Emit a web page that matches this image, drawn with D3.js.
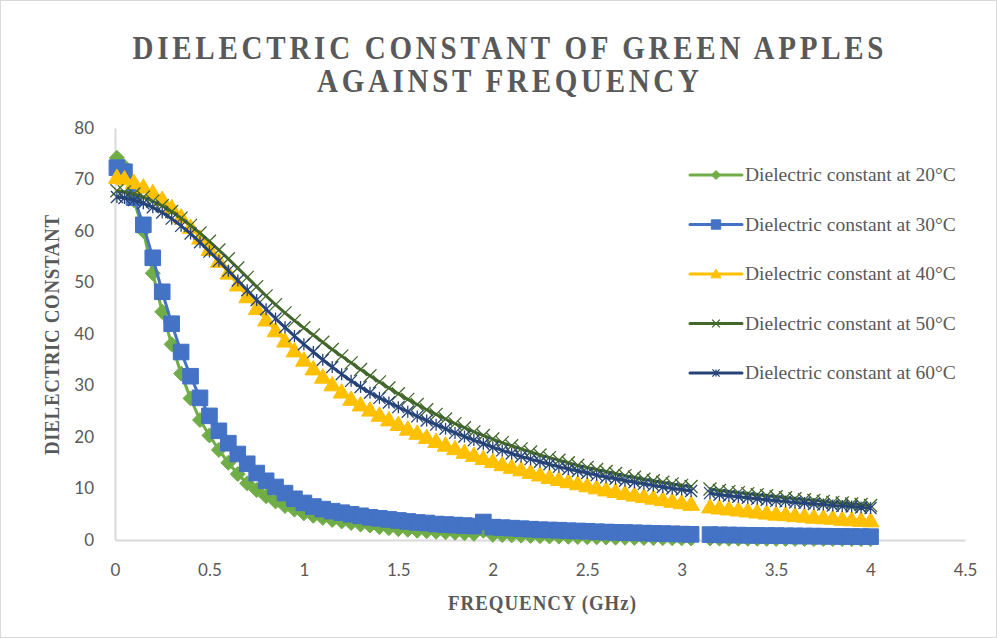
<!DOCTYPE html>
<html>
<head>
<meta charset="utf-8">
<script src="https://cdn.jsdelivr.net/npm/d3@7"></script>
<style>
  html, body { margin: 0; padding: 0; background: #fff; }
  svg { display: block; }
</style>
</head>
<body>
<div id="chart"></div>
<script>
// values (3.1 GHz is missing in the source)
const freq = [0.01,0.05,0.1,0.15,0.2,0.25,0.3,0.35,0.4,0.45,0.5,0.55,0.6,0.65,0.7,0.75,0.8,0.85,0.9,0.95,
  1,1.05,1.1,1.15,1.2,1.25,1.3,1.35,1.4,1.45,1.5,1.55,1.6,1.65,1.7,1.75,1.8,1.85,1.9,1.95,
  2,2.05,2.1,2.15,2.2,2.25,2.3,2.35,2.4,2.45,2.5,2.55,2.6,2.65,2.7,2.75,2.8,2.85,2.9,2.95,
  3,3.05,3.1,3.15,3.2,3.25,3.3,3.35,3.4,3.45,3.5,3.55,3.6,3.65,3.7,3.75,3.8,3.85,3.9,3.95,4];

const t20 = [74.2,72.5,66.0,60.0,51.8,44.3,38.0,32.3,27.5,23.3,20.3,17.5,15.0,12.8,11.0,9.7,8.5,7.5,6.6,5.9,
  5.2,4.7,4.3,3.9,3.6,3.3,3.0,2.8,2.5,2.3,2.1,2.0,1.8,1.7,1.6,1.5,1.4,1.3,1.2,1.8,
  1.0,0.95,0.9,0.85,0.8,0.75,0.7,0.66,0.62,0.58,0.55,0.52,0.49,0.46,0.44,0.42,0.4,0.38,0.36,0.34,
  0.32,0.3,null,0.28,0.27,0.26,0.25,0.24,0.23,0.22,0.21,0.2,0.2,0.19,0.18,0.18,0.17,0.17,0.16,0.16,0.15];

const t30 = [72.3,71.5,66.5,61.2,54.8,48.2,42.0,36.5,31.8,27.6,24.1,21.2,18.8,16.7,14.8,13.0,11.5,10.3,9.1,8.0,
  7.2,6.5,6.0,5.6,5.3,5.0,4.7,4.4,4.2,4.0,3.8,3.6,3.4,3.3,3.1,3.0,2.9,2.8,2.7,3.5,
  2.5,2.4,2.3,2.2,2.1,2.0,1.95,1.9,1.8,1.75,1.7,1.6,1.55,1.5,1.45,1.4,1.35,1.3,1.25,1.2,
  1.15,1.1,null,1.05,1.0,0.98,0.95,0.92,0.9,0.87,0.85,0.82,0.8,0.78,0.76,0.74,0.72,0.7,0.68,0.66,0.65];

const t40 = [70.5,70.2,69.5,68.6,67.5,66.2,64.6,62.8,60.8,58.7,56.5,54.2,51.9,49.6,47.3,45.0,42.8,40.7,38.7,36.8,
  35.0,33.3,31.7,30.2,28.8,27.4,26.3,25.3,24.3,23.4,22.5,21.6,20.8,20.0,19.2,18.5,17.8,17.1,16.5,15.9,
  15.3,14.7,14.2,13.7,13.2,12.7,12.2,11.8,11.4,11.0,10.6,10.2,9.8,9.5,9.1,8.8,8.5,8.2,7.9,7.6,
  7.3,7.0,null,6.5,6.3,6.1,5.9,5.7,5.5,5.3,5.1,5.0,4.8,4.7,4.5,4.4,4.3,4.1,4.0,3.9,3.8];

const t50 = [67.8,67.6,67.2,66.6,65.8,64.9,63.8,62.5,61.1,59.6,58.0,56.3,54.6,52.8,51.0,49.2,47.4,45.7,44.1,42.6,
  41.2,39.8,38.4,37.0,35.7,34.4,33.1,31.9,30.7,29.5,28.4,27.3,26.3,25.3,24.4,23.5,22.6,21.8,21.0,20.3,
  19.6,18.9,18.3,17.7,17.1,16.5,16.0,15.5,15.0,14.5,14.1,13.7,13.3,12.9,12.5,12.2,11.8,11.5,11.2,10.9,
  10.6,10.4,null,9.9,9.6,9.4,9.2,9.0,8.8,8.6,8.4,8.2,8.0,7.8,7.7,7.5,7.3,7.2,7.0,6.9,6.7];

const t60 = [66.6,66.4,66.0,65.4,64.6,63.6,62.4,61.0,59.5,57.8,56.0,54.2,52.3,50.4,48.5,46.6,44.8,43.0,41.3,39.6,
  38.0,36.5,35.0,33.6,32.2,30.9,29.7,28.6,27.6,26.7,25.8,24.9,24.0,23.2,22.4,21.6,20.8,20.1,19.4,18.7,
  18.0,17.4,16.8,16.2,15.7,15.2,14.7,14.2,13.8,13.4,13.0,12.6,12.2,11.9,11.5,11.2,10.9,10.6,10.3,10.0,
  9.8,9.5,null,9.1,8.8,8.6,8.4,8.2,8.0,7.8,7.6,7.5,7.3,7.2,7.0,6.9,6.7,6.6,6.5,6.3,6.2];

const seriesNames = ['Dielectric constant at 20°C', 'Dielectric constant at 30°C', 'Dielectric constant at 40°C',
  'Dielectric constant at 50°C', 'Dielectric constant at 60°C'];
const xTicks = [0, 0.5, 1, 1.5, 2, 2.5, 3, 3.5, 4, 4.5];
const yTicks = [0, 10, 20, 30, 40, 50, 60, 70, 80];

const series = [
  { name: seriesNames[0], values: t20, color: '#70AD47', marker: 'diamond' },
  { name: seriesNames[1], values: t30, color: '#4472C4', marker: 'square' },
  { name: seriesNames[2], values: t40, color: '#FFC000', marker: 'triangle' },
  { name: seriesNames[3], values: t50, color: '#43682B', marker: 'x' },
  { name: seriesNames[4], values: t60, color: '#264478', marker: 'star' },
];

const width = 997;
const height = 638;
const textColor = '#595959';
const axisColor = '#D9D9D9';
const serif = '"Liberation Serif", "Times New Roman", serif';
const sans = 'Lato, "Open Sans", sans-serif';

const svg = d3.select('#chart')
  .append('svg')
  .attr('width', width)
  .attr('height', height);

svg.append('rect')
  .attr('x', 0.5).attr('y', 0.5)
  .attr('width', width - 1).attr('height', height - 1)
  .attr('fill', '#fff')
  .attr('stroke', axisColor);

const x = d3.scaleLinear().domain([0, 4.5]).range([115, 965]);
const y = d3.scaleLinear().domain([0, 80]).range([540, 128]);

// marker shapes, scale k (1 = plot size)
const markerPath = (type, k) => {
  if (type === 'diamond') {
    const r = 7.5 * k;
    return `M0,${-r}L${r},0L0,${r}L${-r},0Z`;
  }
  if (type === 'square') {
    const r = 7.8 * k;
    return `M${-r},${-r}H${r}V${r}H${-r}Z`;
  }
  if (type === 'triangle') {
    const r = 8 * k;
    return `M0,${-r}L${r * 1.05},${r * 0.8}L${-r * 1.05},${r * 0.8}Z`;
  }
  const r = (type === 'x' ? 6.5 : 6) * k;
  let p = `M${-r},${-r}L${r},${r}M${-r},${r}L${r},${-r}`;
  if (type === 'star') p += `M0,${-r}L0,${r}`;
  return p;
};

const drawMarker = (g, type, color, k) => {
  const open = type === 'x' || type === 'star';
  g.append('path')
    .attr('d', markerPath(type, k))
    .attr('fill', open ? 'none' : color)
    .attr('stroke', color)
    .attr('stroke-width', open ? 1.3 : 1);
};

// axes
const xAxis = svg.append('g')
  .attr('transform', `translate(0,${y(0)})`)
  .call(d3.axisBottom(x).tickValues(xTicks).tickFormat((d) => String(d))
    .tickSize(0).tickSizeOuter(0).tickPadding(0));
xAxis.select('.domain').attr('stroke', axisColor).attr('stroke-width', 2);
xAxis.selectAll('text')
  .attr('y', 30)
  .attr('dy', '0.35em')
  .attr('fill', textColor)
  .style('font-family', sans)
  .style('font-size', '17px');

const yAxis = svg.append('g')
  .attr('transform', `translate(${x(0)},0)`)
  .call(d3.axisLeft(y).tickValues(yTicks).tickSize(0).tickSizeOuter(0).tickPadding(21));
yAxis.select('.domain').attr('stroke', axisColor).attr('stroke-width', 2);
yAxis.selectAll('text')
  .attr('fill', textColor)
  .style('font-family', sans)
  .style('font-size', '17px');

// titles (narrow glyphs, spaced out, as in the reference)
const title = svg.append('g')
  .attr('fill', textColor)
  .style('font-family', serif)
  .style('font-weight', 'bold')
  .style('font-size', '33px');
[['DIELECTRIC CONSTANT OF GREEN APPLES', 59, 751], ['AGAINST FREQUENCY', 92, 382]].forEach(([t, ty, w]) => {
  title.append('text')
    .attr('transform', `translate(508,${ty}) scale(0.88,1)`)
    .attr('text-anchor', 'middle')
    .attr('textLength', w / 0.88)
    .attr('lengthAdjust', 'spacing')
    .text(t);
});

svg.append('text')
  .attr('transform', 'translate(59,335) rotate(-90) scale(0.9,1)')
  .attr('text-anchor', 'middle')
  .attr('fill', textColor)
  .style('font-family', serif)
  .style('font-weight', 'bold')
  .style('font-size', '21px')
  .attr('textLength', 240 / 0.9)
  .attr('lengthAdjust', 'spacing')
  .text('DIELECTRIC CONSTANT');

svg.append('text')
  .attr('transform', 'translate(542,610) scale(0.9,1)')
  .attr('text-anchor', 'middle')
  .attr('fill', textColor)
  .style('font-family', serif)
  .style('font-weight', 'bold')
  .style('font-size', '21px')
  .attr('textLength', 188 / 0.9)
  .attr('lengthAdjust', 'spacing')
  .text('FREQUENCY (GHz)');

// series: line then markers, in series order
const plot = svg.append('g');
series.forEach((s) => {
  const pts = freq.map((f, i) => ({ f, v: s.values[i] }));
  const line = d3.line()
    .defined((d) => d.v != null)
    .x((d) => x(d.f))
    .y((d) => y(d.v));

  const g = plot.append('g');
  g.append('path')
    .datum(pts)
    .attr('fill', 'none')
    .attr('stroke', s.color)
    .attr('stroke-width', 3)
    .attr('stroke-linejoin', 'round')
    .attr('d', line);

  pts.filter((d) => d.v != null).forEach((d) => {
    const m = g.append('g').attr('transform', `translate(${x(d.f)},${y(d.v)})`);
    drawMarker(m, s.marker, s.color, 1);
  });
});

// legend
const legend = svg.append('g')
  .style('font-family', serif)
  .style('font-size', '19.5px');
series.forEach((s, i) => {
  const cy = 175 + i * 49.5;
  legend.append('line')
    .attr('x1', 690).attr('x2', 742)
    .attr('y1', cy).attr('y2', cy)
    .attr('stroke', s.color)
    .attr('stroke-width', 3)
    .attr('stroke-linecap', 'round');
  const m = legend.append('g').attr('transform', `translate(716,${cy})`);
  drawMarker(m, s.marker, s.color, 0.6);
  legend.append('text')
    .attr('x', 745).attr('y', cy)
    .attr('dy', '0.33em')
    .attr('fill', textColor)
    .text(s.name);
});
</script>
</body>
</html>
